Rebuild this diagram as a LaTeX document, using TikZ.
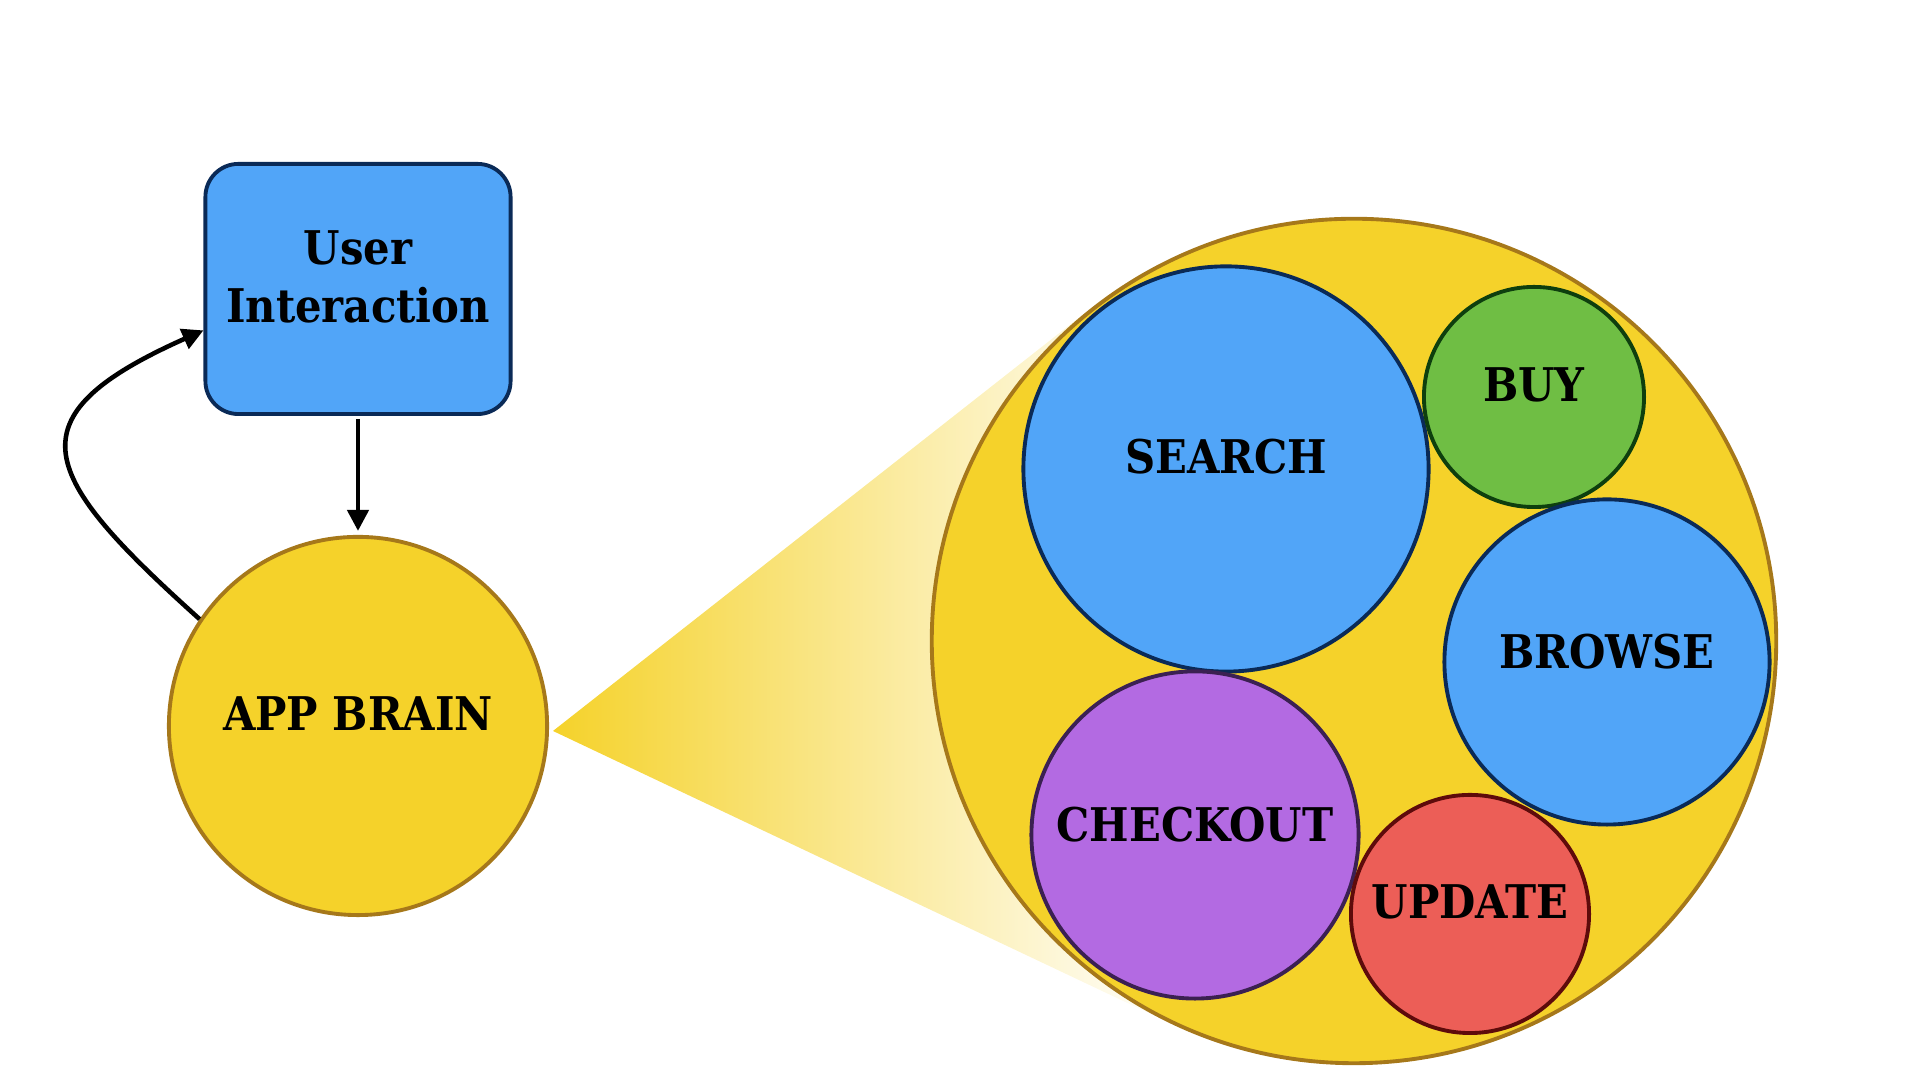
\documentclass[tikz,border=0pt]{standalone}
\usepackage{fontspec}
\usepackage{xcolor}
\usetikzlibrary{arrows.meta,calc,backgrounds}
\newfontfamily\slabfont{DejaVu Serif Condensed}
\definecolor{appyellow}{HTML}{F5D22A}
\definecolor{brainedge}{HTML}{A6781A}
\definecolor{appblue}{HTML}{51A5F8}
\definecolor{blueedge}{HTML}{0A2A57}
\definecolor{buygreen}{HTML}{6FBE44}
\definecolor{greenedge}{HTML}{0E3F0E}
\definecolor{checkpurple}{HTML}{B36AE2}
\definecolor{purpleedge}{HTML}{3B2052}
\definecolor{updatered}{HTML}{EC5E57}
\definecolor{rededge}{HTML}{5E0B0B}

\begin{document}
\begin{tikzpicture}[x=0.01cm,y=0.01cm,
  bubble/.style={circle, draw, line width=1.1pt, inner sep=0pt},
  bubbletext/.style={font=\slabfont\bfseries\fontsize{13.2}{16.7}\selectfont, yshift=0.12cm},
  flow/.style={-{Triangle[length=6pt,width=6pt]}, line width=1.3pt}]
\useasboundingbox (0,0) rectangle (1920,1080);

\node[rectangle, rounded corners=0.33cm, draw=blueedge, fill=appblue, line width=1.1pt, minimum width=3.05cm, minimum height=2.5cm,
  label={[bubbletext, align=center, yshift=0cm]center:{User\\Interaction}}] (ui) at (358,791) {};
\node[bubble, draw=brainedge, fill=appyellow, minimum size=3.78cm, label={[bubbletext]center:APP BRAIN}] (brain) at (358,354) {};

\node[bubble, draw=brainedge, fill=appyellow, minimum size=8.44cm] (big) at (1354,439) {};
\node[bubble, draw=blueedge, fill=appblue, minimum size=4.05cm, label={[bubbletext]center:SEARCH}] (search) at (1226,611) {};
\node[bubble, draw=greenedge, fill=buygreen, minimum size=2.2cm, label={[bubbletext]center:BUY}] (buy) at (1534,683) {};
\node[bubble, draw=blueedge, fill=appblue, minimum size=3.25cm, label={[bubbletext, yshift=-0.02cm]center:BROWSE}] (browse) at (1607,418) {};
\node[bubble, draw=purpleedge, fill=checkpurple, minimum size=3.27cm, label={[bubbletext, yshift=-0.02cm]center:CHECKOUT}] (checkout) at (1195,245) {};
\node[bubble, draw=rededge, fill=updatered, minimum size=2.38cm, label={[bubbletext]center:UPDATE}] (update) at (1470,166) {};

\coordinate (zoomtip) at (553,349);
\begin{scope}[on background layer]
\shade[left color=appyellow, right color=white] (zoomtip) -- (tangent cs:node=big,point={(zoomtip)},solution=1)
  -- (tangent cs:node=big,point={(zoomtip)},solution=2) -- cycle;
\end{scope}

\draw[flow, shorten <=0.03cm, shorten >=0.04cm] (ui.south) -- (brain.north);
\draw[flow] (brain.146.8) to[out=138, in=204, looseness=1.9] (ui.195);
\end{tikzpicture}
\end{document}
